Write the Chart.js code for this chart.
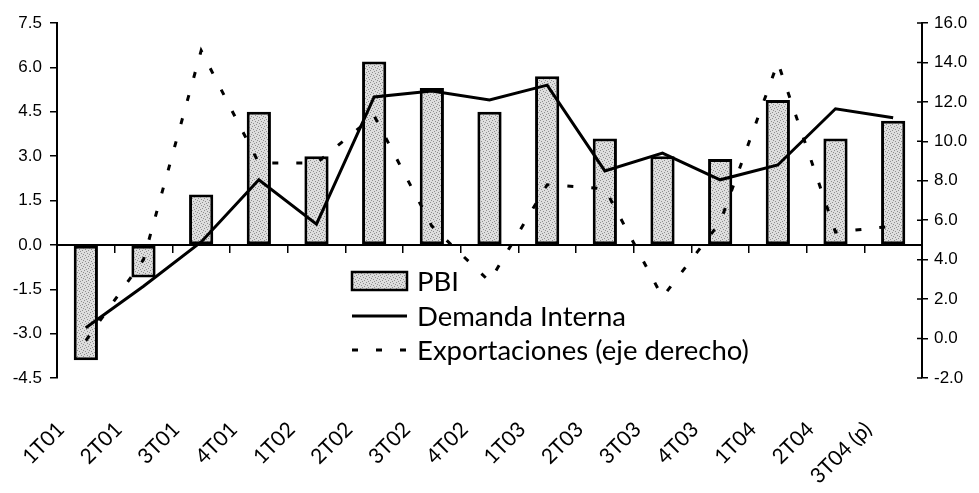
<!DOCTYPE html>
<html>
<head>
<meta charset="utf-8">
<script src="https://cdn.jsdelivr.net/npm/chart.js@4.4.1/dist/chart.umd.min.js"></script>
<style>
  html, body { margin: 0; padding: 0; background: #fff; }
  #wrap { width: 979px; height: 493px; }
</style>
</head>
<body>
<div id="wrap"><canvas id="grafico"></canvas></div>
<script>
const trimestres = ['1T01', '2T01', '3T01', '4T01', '1T02', '2T02', '3T02', '4T02',
                    '1T03', '2T03', '3T03', '4T03', '1T04', '2T04', '3T04 (p)'];
const pbi = [-3.9, -1.1, 1.7, 4.5, 3.0, 6.2, 5.3, 4.5, 5.7, 3.6, 3.0, 2.9, 4.9, 3.6, 4.2];
const demandaInterna = [-2.8, -1.4, 0.1, 2.2, 0.7, 5.0, 5.2, 4.9, 5.4, 2.5, 3.1, 2.2, 2.7, 4.6, 4.3];
const exportaciones = [-0.1, 4.0, 14.6, 8.9, 8.9, 11.3, 5.7, 2.9, 7.8, 7.6, 2.1, 5.9, 14.0, 5.4, 5.7];
const ejeIzq = { min: -4.5, max: 7.5, paso: 1.5 };
const ejeDer = { min: -2, max: 16, paso: 2 };

const canvas = document.getElementById('grafico');
const ctx = canvas.getContext('2d');

// trama punteada gris de las barras
function trama() {
    const c = document.createElement('canvas');
    c.width = 6; c.height = 6;
    const g = c.getContext('2d');
    g.fillStyle = '#dedede';
    g.fillRect(0, 0, 6, 6);
    g.fillStyle = '#8f8f8f';
    [[0, 0], [3, 1], [1, 3], [4, 4], [5, 2], [2, 5]].forEach(p => g.fillRect(p[0], p[1], 1, 1));
    return ctx.createPattern(c, 'repeat');
}
const relleno = trama();

const fuenteEje = { family: 'Liberation Sans', size: 17 };

// leyenda dentro del area del grafico + marcas interiores del eje derecho
const extras = {
    id: 'extras',
    afterDraw(chart) {
        const c = chart.ctx;
        const ds = chart.data.datasets;
        const x0 = 352, x1 = 407, xt = 417;
        const filas = [281, 316, 350];
        c.save();
        c.fillStyle = ds[0].backgroundColor;
        c.fillRect(x0, filas[0] - 9, x1 - x0, 18);
        c.strokeStyle = '#000';
        c.lineWidth = 2.5;
        c.strokeRect(x0, filas[0] - 9, x1 - x0, 18);

        c.lineWidth = 3;
        c.beginPath();
        c.moveTo(x0, filas[1]);
        c.lineTo(x1, filas[1]);
        c.stroke();

        c.setLineDash(ds[2].borderDash);
        c.beginPath();
        c.moveTo(x0, filas[2]);
        c.lineTo(x1, filas[2]);
        c.stroke();
        c.setLineDash([]);

        c.fillStyle = '#000';
        c.font = '27.5px Lato';
        c.textBaseline = 'middle';
        ds.forEach((d, i) => c.fillText(d.label, xt, filas[i] + 1));

        const s = chart.scales.y1;
        c.lineWidth = 1.5;
        c.beginPath();
        s.ticks.forEach(t => {
            const y = s.getPixelForValue(t.value);
            c.moveTo(s.left, y);
            c.lineTo(s.left - 5, y);
        });
        c.stroke();
        c.restore();
    }
};

new Chart(ctx, {
    data: {
        labels: trimestres,
        datasets: [{
            type: 'bar',
            label: 'PBI',
            data: pbi,
            xAxisID: 'x',
            yAxisID: 'y',
            backgroundColor: relleno,
            borderColor: '#000',
            borderWidth: 3,
            borderSkipped: false,
            barPercentage: 0.42,
            categoryPercentage: 1,
            order: 3
        }, {
            type: 'line',
            label: 'Demanda Interna',
            data: demandaInterna,
            xAxisID: 'x',
            yAxisID: 'y',
            borderColor: '#000',
            borderWidth: 3,
            pointRadius: 0,
            tension: 0,
            order: 1
        }, {
            type: 'line',
            label: 'Exportaciones (eje derecho)',
            data: exportaciones,
            xAxisID: 'x',
            yAxisID: 'y1',
            borderColor: '#000',
            borderWidth: 3,
            borderDash: [6, 18],
            pointRadius: 0,
            tension: 0,
            order: 2
        }]
    },
    options: {
        responsive: true,
        maintainAspectRatio: false,
        animation: false,
        layout: { padding: { top: 23, left: 0, right: 0, bottom: 0 } },
        plugins: {
            legend: { display: false },
            tooltip: { enabled: false }
        },
        scales: {
            x: {
                type: 'category',
                position: 'bottom',
                offset: true,
                grid: { display: false },
                border: { display: false },
                ticks: {
                    autoSkip: false,
                    minRotation: 45,
                    maxRotation: 45,
                    padding: 31,
                    labelOffset: -25,
                    color: '#000',
                    font: { family: 'Lato', size: 21 }
                },
                afterFit(s) { s.height = 115; }
            },
            xCero: {
                type: 'category',
                axis: 'x',
                position: { y: 0 },
                offset: true,
                grid: { offset: true, drawOnChartArea: false, drawTicks: true, tickLength: 7, color: '#000', lineWidth: 1.5 },
                border: { display: true, color: '#000', width: 2 },
                ticks: { display: false }
            },
            y: {
                position: 'left',
                min: ejeIzq.min,
                max: ejeIzq.max,
                ticks: {
                    stepSize: ejeIzq.paso,
                    padding: 8,
                    color: '#000',
                    font: fuenteEje,
                    callback: v => v.toFixed(1)
                },
                grid: { drawOnChartArea: false, tickLength: 7, color: '#000', lineWidth: 1.5 },
                border: { color: '#000', width: 2 },
                afterFit(s) { s.width = 57; }
            },
            y1: {
                position: 'right',
                min: ejeDer.min,
                max: ejeDer.max,
                ticks: {
                    stepSize: ejeDer.paso,
                    padding: 6,
                    color: '#000',
                    font: fuenteEje,
                    callback: v => v.toFixed(1)
                },
                grid: { drawOnChartArea: false, tickLength: 6, color: '#000', lineWidth: 1.5 },
                border: { color: '#000', width: 2 },
                afterFit(s) { s.width = 57; }
            }
        }
    },
    plugins: [extras]
});
</script>
</body>
</html>
